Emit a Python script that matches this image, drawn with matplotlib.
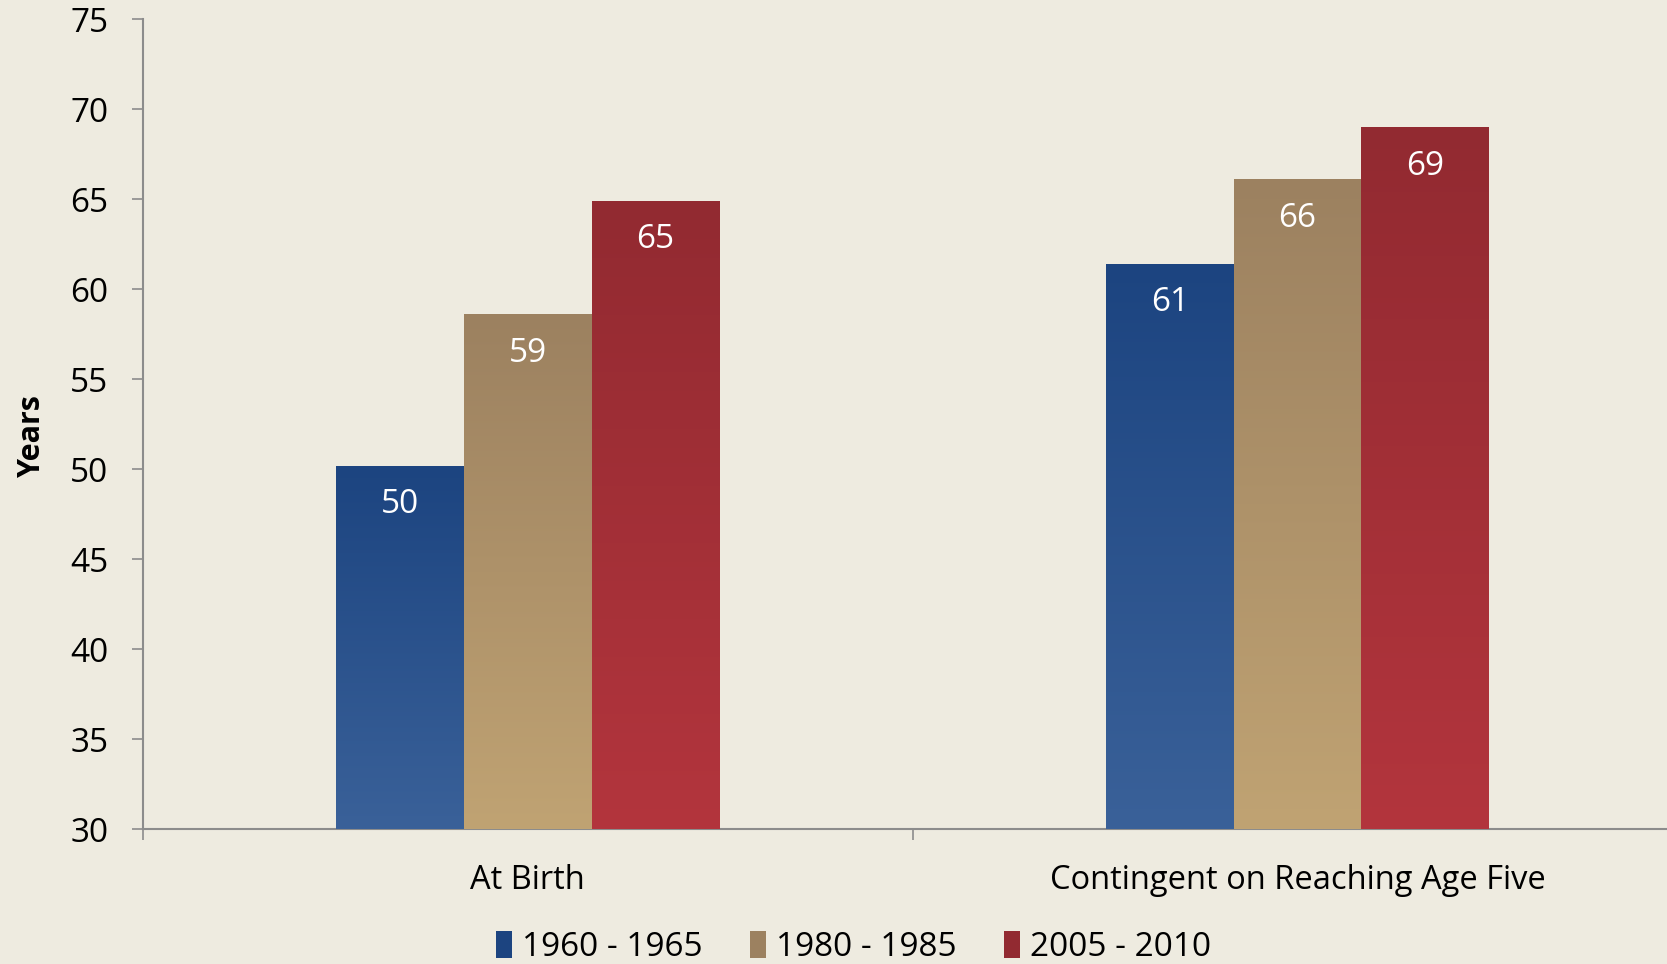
import numpy as np
import matplotlib
matplotlib.use("Agg")
import matplotlib.pyplot as plt
from matplotlib import font_manager
from matplotlib.colors import LinearSegmentedColormap
from matplotlib.patches import Patch

categories = ["At Birth", "Contingent on Reaching Age Five"]
series = ["1960 - 1965", "1980 - 1985", "2005 - 2010"]
values = {
    "1960 - 1965": [50.2, 61.4],
    "1980 - 1985": [58.6, 66.1],
    "2005 - 2010": [64.9, 69.0],
}
labels = {
    "1960 - 1965": ["50", "61"],
    "1980 - 1985": ["59", "66"],
    "2005 - 2010": ["65", "69"],
}
# (top colour, bottom colour) of each bar's gradient
colors = {
    "1960 - 1965": ("#1c4480", "#3a6199"),
    "1980 - 1985": ("#9c8160", "#c0a373"),
    "2005 - 2010": ("#922a31", "#b3353d"),
}
yticks = [30, 35, 40, 45, 50, 55, 60, 65, 70, 75]

bg = "#eeebe0"
plt.rcParams['font.family'] = ['Open Sans', 'DejaVu Sans']

installed = {f.name for f in font_manager.fontManager.ttflist}
legend_font = 'Liberation Sans Narrow' if 'Liberation Sans Narrow' in installed else 'Open Sans'

fig = plt.figure(figsize=(16.67, 9.64), dpi=100, facecolor=bg)
ax = fig.add_axes([0.0858, 0.140, 0.9142, 0.840], facecolor=bg)

width = 0.166
x = np.arange(len(categories))
ybase = 30
for i, s in enumerate(series):
    pos = x + (i - 1) * width
    bars = ax.bar(pos, np.array(values[s]) - ybase, width, bottom=ybase,
                  color=colors[s][1], linewidth=0, zorder=2)
    cmap = LinearSegmentedColormap.from_list(s, [colors[s][1], colors[s][0]])
    grad = np.linspace(0, 1, 256).reshape(-1, 1)
    for b, v, lab in zip(bars, values[s], labels[s]):
        x0 = b.get_x()
        im = ax.imshow(grad, cmap=cmap, origin='lower', aspect='auto',
                       extent=(x0, x0 + width, ybase, v), zorder=3)
        im.set_clip_path(b)
        ax.annotate(lab, (x0 + width / 2, v), xytext=(0, -28),
                    textcoords='offset points', ha='center', va='center',
                    color='white', fontsize=24, zorder=4)

ax.set_yticks(yticks)
ax.tick_params(axis='y', labelsize=24, length=8, width=1.2, color='#8c8c8c', pad=17)
ax.set_xticks(x)
ax.set_xticklabels(categories)
ax.set_xticks([-0.5, 0.5], minor=True)
ax.tick_params(axis='x', which='major', length=0, labelsize=23.5, pad=25)
ax.tick_params(axis='x', which='minor', length=8, width=1.2, color='#8c8c8c')
ax.set_xlim(-0.5, 1.48)
ax.set_ylim(30, 75)
for side in ['top', 'right']:
    ax.spines[side].set_visible(False)
for side in ['left', 'bottom']:
    ax.spines[side].set_color('#8c8c8c')
    ax.spines[side].set_linewidth(1.5)

fig.text(0.019, 0.548, "Years", rotation=90, ha='center', va='center',
         fontsize=22, fontweight='bold')

handles = [Patch(facecolor=colors[s][0], edgecolor='none') for s in series]
fig.legend(handles, series, loc='center', bbox_to_anchor=(0.512, 0.017),
           ncol=3, frameon=False, handlelength=0.5, handleheight=0.85,
           handletextpad=0.3, columnspacing=1.4,
           prop={'family': [legend_font, 'Open Sans'], 'size': 24})

fig.savefig("out.png", dpi=100, facecolor=bg)
